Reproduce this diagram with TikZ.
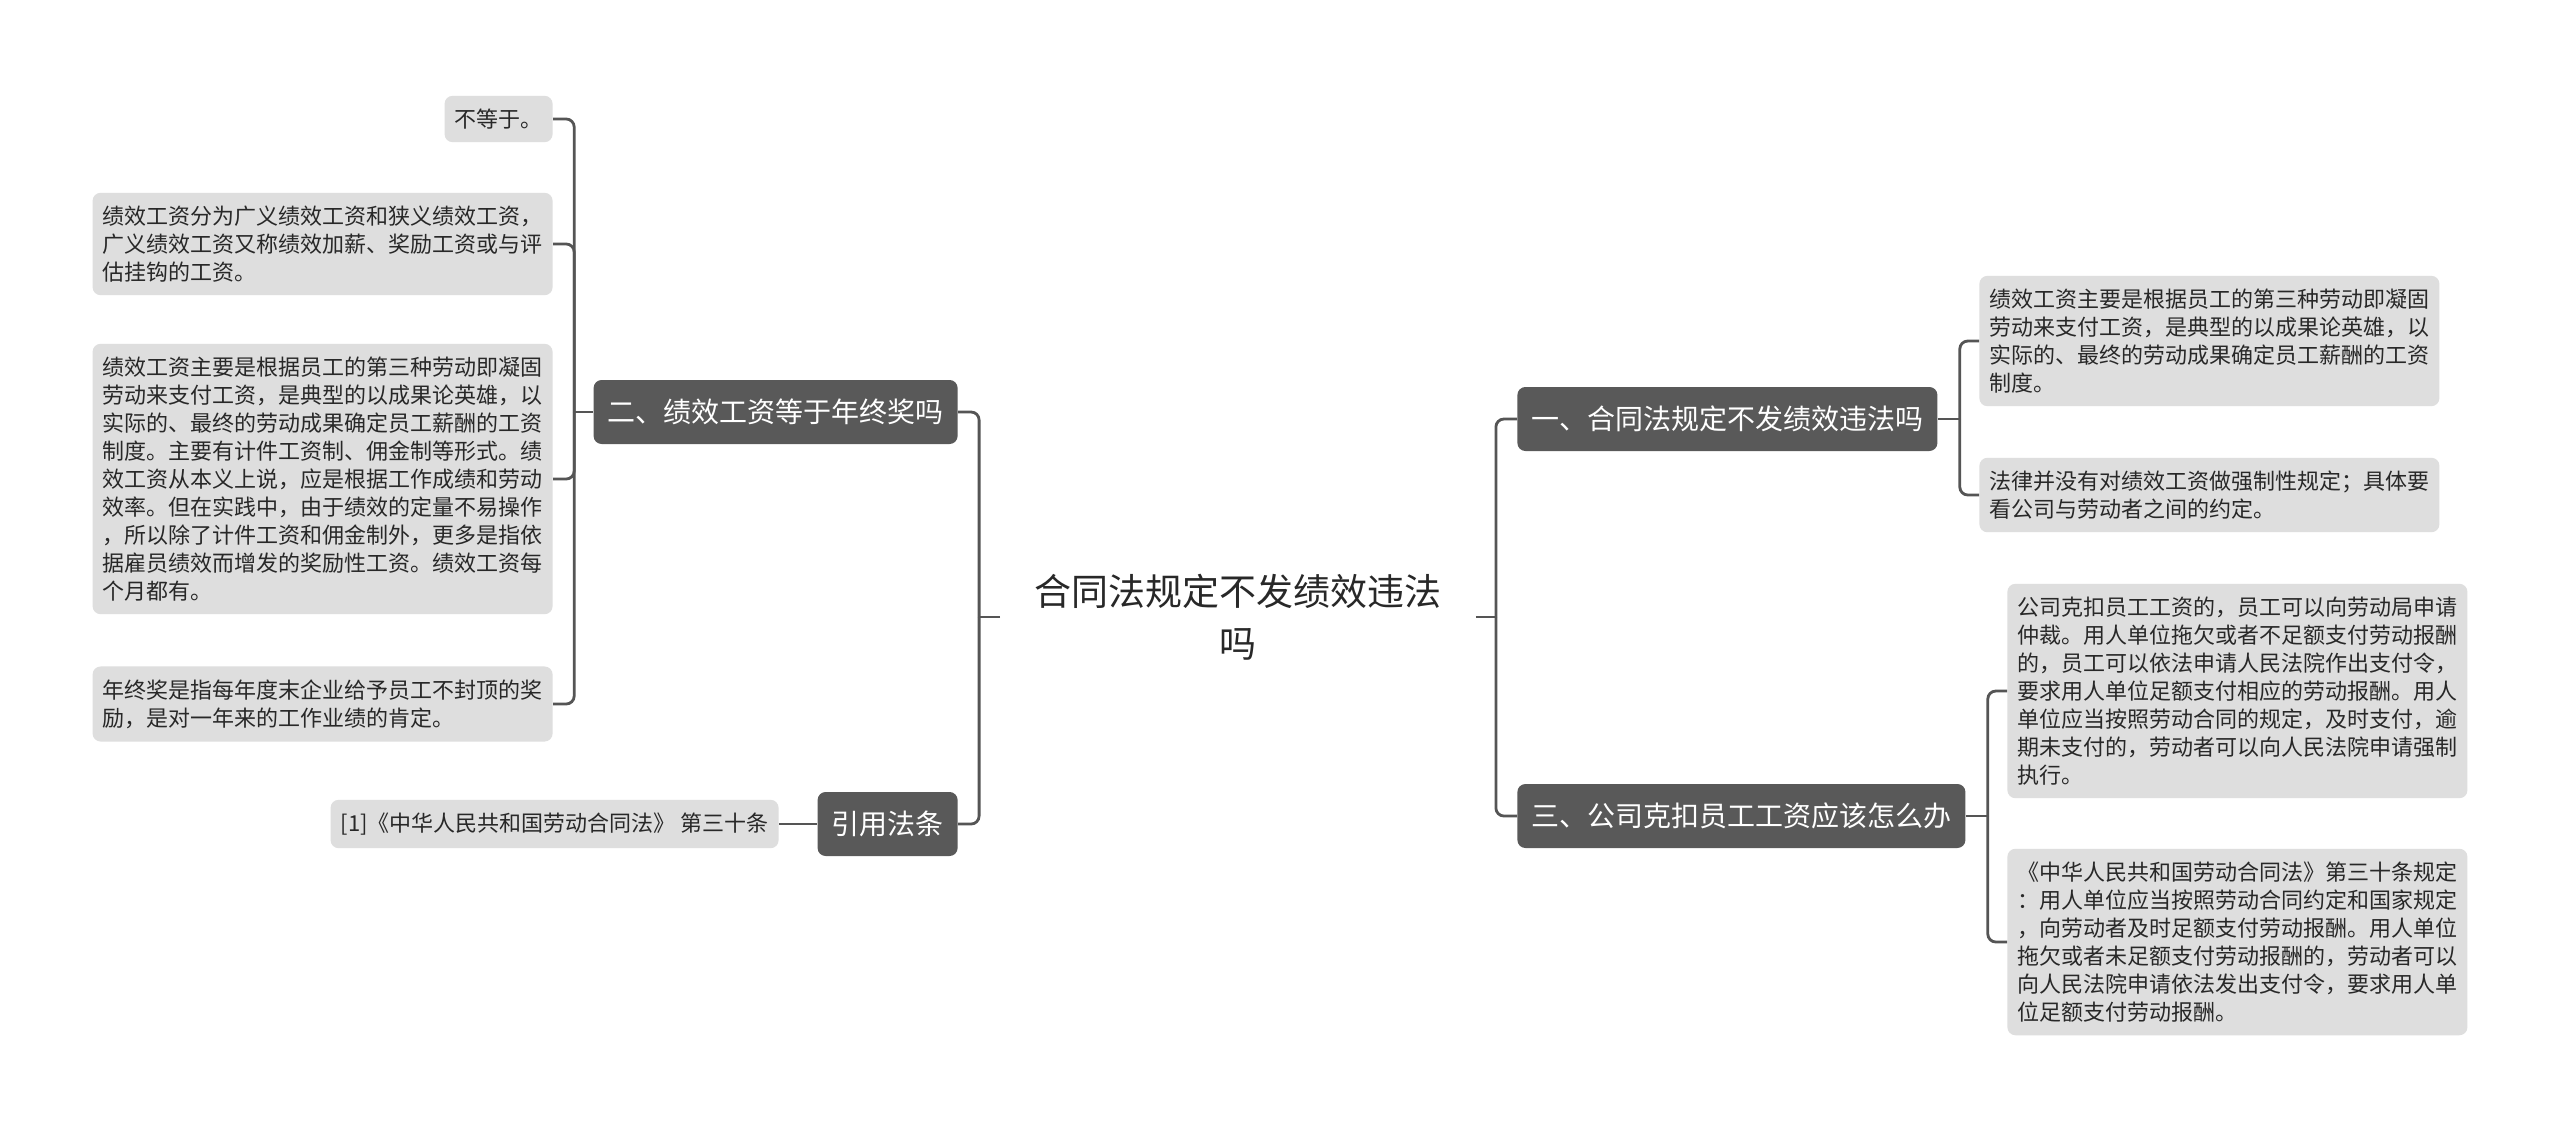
\documentclass[tikz,border=0pt]{standalone}
\usepackage{fontspec}
\newfontfamily\cjk{Noto Sans CJK SC}
\definecolor{ink}{RGB}{40,40,40}
\definecolor{cLeaf}{RGB}{222,222,222}
\definecolor{cBranch}{RGB}{89,89,89}
\definecolor{cLink}{RGB}{85,85,85}

\begin{document}
\begin{tikzpicture}[
  x=0.5pt, y=-0.5pt,
  font=\cjk,
  link/.style={draw=cLink, line width=1.4pt, rounded corners=4pt},
  root/.style={align=center, inner xsep=17pt, inner ysep=8pt, text=ink, font=\cjk\fontsize{18.5}{26}\selectfont},
  branch/.style={rounded corners=4pt, fill=cBranch, text=white, inner xsep=7pt, minimum height=32pt, font=\cjk\fontsize{14}{17}\selectfont},
  leaf/.style={rounded corners=4pt, fill=cLeaf, text=ink, align=left, inner xsep=5pt, inner ysep=6.5pt, font=\cjk\fontsize{11}{14}\selectfont},
]
\path[fill=white, use as bounding box] (0,0) rectangle (2560,1131);

% ---- centre ----
\node[root] (ROOT) at (1238,617) {合同法规定不发绩效违法\\吗};

% ---- the four branches ----
\node[branch, anchor=east] (B2) at (958,412) {二、绩效工资等于年终奖吗};
\node[branch, anchor=east] (B4) at (958,824) {引用法条};
\node[branch, anchor=west] (B1) at (1517,419) {一、合同法规定不发绩效违法吗};
\node[branch, anchor=west] (B3) at (1517,816) {三、公司克扣员工工资应该怎么办};

% ---- left leaves ----
\node[leaf, anchor=east] (L1) at (553,119) {不等于。};
\node[leaf, anchor=east] (L2) at (553,244) {%
  绩效工资分为广义绩效工资和狭义绩效工资，\\
  广义绩效工资又称绩效加薪、奖励工资或与评\\
  估挂钩的工资。};
\node[leaf, anchor=east] (L3) at (553,479) {%
  绩效工资主要是根据员工的第三种劳动即凝固\\
  劳动来支付工资，是典型的以成果论英雄，以\\
  实际的、最终的劳动成果确定员工薪酬的工资\\
  制度。主要有计件工资制、佣金制等形式。绩\\
  效工资从本义上说，应是根据工作成绩和劳动\\
  效率。但在实践中，由于绩效的定量不易操作\\
  ，所以除了计件工资和佣金制外，更多是指依\\
  据雇员绩效而增发的奖励性工资。绩效工资每\\
  个月都有。};
\node[leaf, anchor=east] (L4) at (553,704) {%
  年终奖是指每年度末企业给予员工不封顶的奖\\
  励，是对一年来的工作业绩的肯定。};
\node[leaf, anchor=east] (CITE) at (779,824) {[1]《中华人民共和国劳动合同法》 第三十条};

% ---- right leaves ----
\node[leaf, anchor=west] (R1) at (1979,341) {%
  绩效工资主要是根据员工的第三种劳动即凝固\\
  劳动来支付工资，是典型的以成果论英雄，以\\
  实际的、最终的劳动成果确定员工薪酬的工资\\
  制度。};
\node[leaf, anchor=west] (R2) at (1979,495) {%
  法律并没有对绩效工资做强制性规定；具体要\\
  看公司与劳动者之间的约定。};
\node[leaf, anchor=west] (R3) at (2007,691) {%
  公司克扣员工工资的，员工可以向劳动局申请\\
  仲裁。用人单位拖欠或者不足额支付劳动报酬\\
  的，员工可以依法申请人民法院作出支付令，\\
  要求用人单位足额支付相应的劳动报酬。用人\\
  单位应当按照劳动合同的规定，及时支付，逾\\
  期未支付的，劳动者可以向人民法院申请强制\\
  执行。};
\node[leaf, anchor=west] (R4) at (2007,942) {%
  《中华人民共和国劳动合同法》第三十条规定\\
  ：用人单位应当按照劳动合同约定和国家规定\\
  ，向劳动者及时足额支付劳动报酬。用人单位\\
  拖欠或者未足额支付劳动报酬的，劳动者可以\\
  向人民法院申请依法发出支付令，要求用人单\\
  位足额支付劳动报酬。};

% ---- centre -> branches ----
\draw[link] (ROOT.west) -- ++(-21,0);
\foreach \b in {B2,B4} \draw[link] (ROOT.west) ++(-21,0) |- (\b.east);
\draw[link] (ROOT.east) -- ++(20,0);
\foreach \b in {B1,B3} \draw[link] (ROOT.east) ++(20,0) |- (\b.west);

% ---- branches -> leaves ----
\draw[link] (B2.west) -- ++(-19,0);
\foreach \l in {L1,L2,L3,L4} \draw[link] (B2.west) ++(-19,0) |- (\l.east);
\draw[link] (B4.west) -- (CITE.east);
\draw[link] (B1.east) -- ++(22,0);
\foreach \l in {R1,R2} \draw[link] (B1.east) ++(22,0) |- (\l.west);
\draw[link] (B3.east) -- ++(22,0);
\foreach \l in {R3,R4} \draw[link] (B3.east) ++(22,0) |- (\l.west);

\end{tikzpicture}
\end{document}
